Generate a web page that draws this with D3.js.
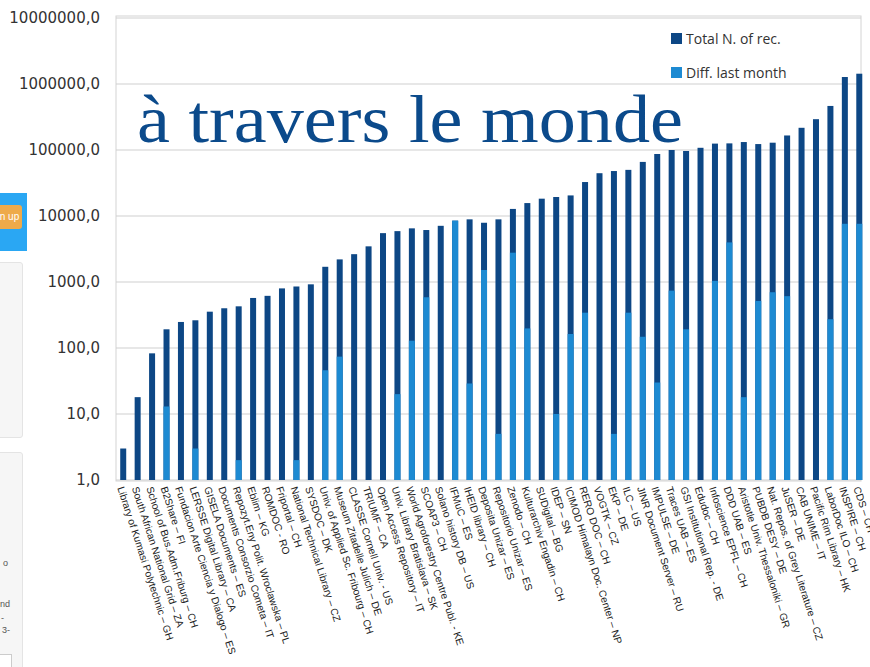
<!DOCTYPE html>
<html lang="fr">
<head>
  <meta charset="UTF-8">
  <title>Records per repository</title>
  <script src="https://d3js.org/d3.v7.min.js"></script>
  <style>
    body { margin: 0; background: #fff; font-family: "Liberation Sans", sans-serif; }
    #wrap { position: relative; width: 870px; height: 667px; overflow: hidden; }
    .frag { position: absolute; }
    svg { position: absolute; left: 0; top: 0; }
    .tick-y { font-family: "DejaVu Sans", sans-serif; font-size: 15px; fill: #333; }
    .xlab { font-family: "Liberation Sans", sans-serif; font-size: 10.2px; fill: #222; }
    .leg { font-family: "Open Sans", sans-serif; font-size: 14px; fill: #333; }
  </style>
</head>
<body>
<div id="wrap">
  <!-- bits of the page behind the screenshot -->
  <div class="frag" style="left:0;top:193px;width:27px;height:58px;background:#2aa7f3;"></div>
  <div class="frag" style="left:-20px;top:205px;width:42px;height:24px;background:#eeaa4a;border-radius:3px;color:#fff;font-size:10px;line-height:24px;text-align:right;padding-right:0;">n up&nbsp;</div>
  <div class="frag" style="left:-10px;top:262px;width:31px;height:174px;background:#f6f6f6;border:1px solid #e4e4e4;border-radius:3px;"></div>
  <div class="frag" style="left:-10px;top:452px;width:31px;height:230px;background:#f6f6f6;border:1px solid #e4e4e4;border-radius:3px;font-size:9px;color:#555;">
    <div style="position:absolute;left:12px;top:105px;">o</div>
    <div style="position:absolute;left:9px;top:146px;">nd</div>
    <div style="position:absolute;left:10px;top:160px;">-</div>
    <div style="position:absolute;left:11px;top:172px;">3-</div>
    <div style="position:absolute;left:0;top:201px;width:19px;height:20px;background:#fff;border:1px solid #ccc;"></div>
  </div>
  <svg id="chart" width="870" height="667"></svg>
</div>
<script>
const categories = [
  "Library of Kumasi Polytechnic – GH", "South African National Grid – ZA", "School of Bus.Adm.Friburg – CH",
  "B2Share – FI", "Fundacion Arte Ciencia y Dialogo – ES", "LERSSE Digital Library – CA",
  "GISELA Documents – ES", "Documents Consorzio Cometa – IT", "Repozyt.Eny Polit. Wroclawska – PL",
  "Eblim – KG", "ROMDOC - RO", "Friportal – CH", "National Technical Library – CZ", "SYSDOC – DK",
  "Univ. of Applied Sc. Fribourg – CH", "Museum Zitadelle Julich – DE", "CLASSE Cornell Univ. - US",
  "TRIUMF – CA", "Open Access Repository – IT", "Univ. Library Bratislava – SK",
  "World Agroforestry Centre Publ. - KE", "SCOAP3 – CH", "Solano history DB – US", "IFMuC – ES",
  "IHEID library – CH", "Deposita Unizar – ES", "Repositorio Unizar – ES", "Zenodo – CH",
  "Kulturarchiv Engadin – CH", "SUDigital – BG", "IDEP – SN", "ICIMOD Himalayn Doc. Center – NP",
  "RERO DOC – CH", "VOGTK – CZ", "EKP – DE", "ILC – US", "JINR Document Server – RU", "IMPULSE – DE",
  "Traces UAB – ES", "GSI Institutional Rep. - DE", "Edudoc – CH", "Infoscience EPFL – CH",
  "DDD UAB – ES", "Aristotle Univ. Thessaloniki – GR", "PUBDB DESY – DE",
  "Nat. Repos. of Grey Literature – CZ", "JuSER – DE", "CAB UNIME – IT", "Pacific Rim Library – HK",
  "LaborDoc ILO – CH", "INSPIRE – CH", "CDS – CH"
];

const totalRecords = [
  3, 18, 83, 192, 248, 263, 355, 400, 428, 573, 617, 800, 855, 922, 1700, 2200, 2640, 3470, 5500, 5900,
  6500, 6130, 7100, 8500, 8900, 7900, 8900, 12800, 15700, 18300, 19400, 20500, 32700, 44500, 48000, 50000,
  66000, 87000, 100000, 96600, 108000, 125000, 126000, 132000, 123000, 129000, 166000, 217000, 293000,
  465000, 1276000, 1432000
];

// null = no new records last month
const diffLastMonth = [
  null, null, null, 13, null, 3, null, null, 2, null, null, null, 2, null, 46, 74, null, null, null, 20,
  129, 587, null, 8500, 29, 1520, 5, 2780, 198, null, 10, 163, 343, null, 5, 343,
  148, 30, 740, 192, null, 1040, 3980, 18, 516, 700, 610, null, null,
  273, 7620, 7620
];

const yTicks = [1, 10, 100, 1000, 10000, 100000, 1000000, 10000000];
const seriesNames = ["Total N. of rec.", "Diff. last month"];
const colors = ["#0d4785", "#1d8ad2"];

const svg = d3.select("#chart");
const plotL = 116, plotR = 861, plotT = 16, plotB = 481;

const x = d3.scaleBand().domain(categories).range([plotL, 866.5]);
const y = d3.scaleLog().domain([1, 10000000]).range([480, 18]);

// frame + grid
svg.append("rect")
  .attr("x", plotL).attr("y", plotT)
  .attr("width", plotR - plotL).attr("height", plotB - plotT)
  .attr("fill", "none").attr("stroke", "#d4d4d4");

svg.selectAll(".grid")
  .data(yTicks)
  .join("line")
  .attr("x1", plotL).attr("x2", plotR)
  .attr("y1", d => y(d)).attr("y2", d => y(d))
  .attr("stroke", "#d0d0d0").attr("stroke-width", 1.2);

svg.selectAll(".tick-y")
  .data(yTicks)
  .join("text")
  .attr("class", "tick-y")
  .attr("x", 100)
  .attr("y", d => y(d))
  .attr("dy", "0.36em")
  .attr("text-anchor", "end")
  .text(d => d + ",0");

const bw = 6;
const cx = d => x(d) + x.bandwidth() / 2;

// total bars
svg.selectAll(".bar-total")
  .data(categories)
  .join("rect")
  .attr("x", d => cx(d) - bw / 2)
  .attr("width", bw)
  .attr("y", (d, i) => y(totalRecords[i]))
  .attr("height", (d, i) => y(1) - y(totalRecords[i]))
  .attr("fill", colors[0]);

// diff bars drawn over them
const diffData = categories.map((c, i) => ({c, v: diffLastMonth[i]})).filter(d => d.v != null);
svg.selectAll(".bar-diff")
  .data(diffData)
  .join("rect")
  .attr("x", d => cx(d.c) - bw / 2)
  .attr("width", bw)
  .attr("y", d => y(d.v))
  .attr("height", d => y(1) - y(d.v))
  .attr("fill", colors[1]);

// x labels
svg.selectAll(".xlab")
  .data(categories)
  .join("text")
  .attr("class", "xlab")
  .attr("transform", d => `translate(${cx(d) - 3},${487}) rotate(72)`)
  .attr("dy", "0.3em")
  .text(d => d);

// legend
const leg = svg.selectAll(".legitem")
  .data(seriesNames)
  .join("g")
  .attr("transform", (d, i) => `translate(671,${33 + i * 34})`);
leg.append("rect").attr("width", 11).attr("height", 11).attr("fill", (d, i) => colors[i]);
leg.append("text").attr("class", "leg").attr("x", 15).attr("y", 10.5).text(d => d);

// overlay title from the slide
svg.append("text")
  .attr("x", 137).attr("y", 142)
  .attr("font-family", "Liberation Serif, serif")
  .attr("font-size", 68)
  .attr("fill", "#0b4a8b")
  .attr("textLength", 546)
  .attr("lengthAdjust", "spacingAndGlyphs")
  .text("à travers le monde");
</script>
</body>
</html>
